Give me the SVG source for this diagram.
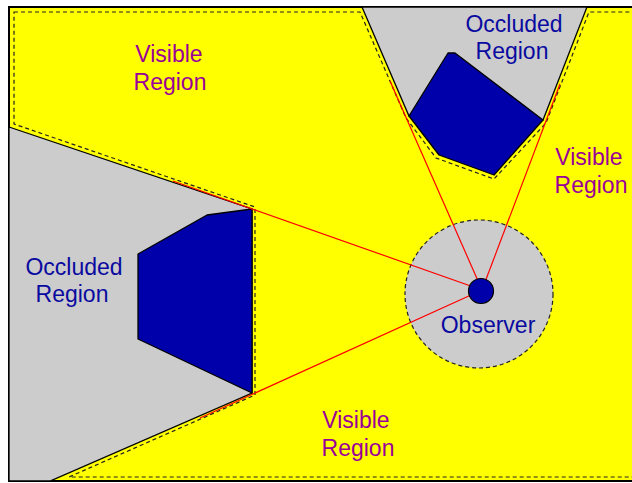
<svg xmlns="http://www.w3.org/2000/svg" width="632" height="483" viewBox="0 0 632 483">
  <style>
    .frame { fill: #ffff00; stroke: #000; stroke-width: 2; }
    .occl { fill: #cccccc; stroke: #000; stroke-width: 1.3; stroke-linejoin: miter; }
    .obst { fill: #0000aa; stroke: #000; stroke-width: 1.3; stroke-linejoin: round; }
    .dash { fill: none; stroke: #222; stroke-width: 1.2; stroke-dasharray: 4 3; }
    .ray { stroke: #ff0000; stroke-width: 1.2; fill: none; }
    .vis { font-family: "Liberation Sans", Arial, sans-serif; font-size: 23px; fill: #990099; text-anchor: middle; }
    .occ { font-family: "Liberation Sans", Arial, sans-serif; font-size: 23px; fill: #0a0aa0; text-anchor: middle; }
  </style>
  <rect width="632" height="483" fill="#ffffff"/>
  <g id="frame">
    <rect class="frame" x="9" y="7" width="640" height="474"/>
  </g>
  <g id="occluded-left">
    <polygon class="occl" points="9,127 252,209 252,393 50,481 9,481"/>
  </g>
  <g id="occluded-top">
    <polygon class="occl" points="362,7 409,116 543,120 587,7"/>
  </g>
  <g id="visible-boundary">
    <path class="dash" d="M14,12 L360,12 L406,118 L436,158 L494,179 L546,123 L589,12 L636,12 L636,477 L69,477 L255,395 L255,207 L14,124 Z"/>
  </g>
  <g id="obstacle-left">
    <polygon class="obst" points="252,209 207,215 138,254 138,339 252,393"/>
  </g>
  <g id="obstacle-top">
    <polygon class="obst" points="409,116 448,53 455,53 543,120 494,175 439,155"/>
  </g>
  <g id="sensor-range">
    <circle cx="479" cy="294" r="74" fill="#cccccc" stroke="#222" stroke-width="1.2" stroke-dasharray="4 3"/>
  </g>
  <g id="connectors">
    <line class="ray" x1="482" y1="290" x2="173" y2="181"/>
    <line class="ray" x1="482" y1="290" x2="200" y2="418"/>
    <line class="ray" x1="482" y1="290" x2="390" y2="81"/>
    <line class="ray" x1="482" y1="290" x2="560" y2="84"/>
  </g>
  <g id="observer">
    <circle cx="481" cy="291" r="12.5" fill="#0000aa" stroke="#000" stroke-width="1.2"/>
    <text class="occ" x="488" y="333">Observer</text>
  </g>
  <g id="label-visible-tl">
    <text class="vis" x="169" y="62">Visible</text>
    <text class="vis" x="170" y="90">Region</text>
  </g>
  <g id="label-occluded-top">
    <text class="occ" x="514" y="32">Occluded</text>
    <text class="occ" x="512" y="59">Region</text>
  </g>
  <g id="label-visible-right">
    <text class="vis" x="589" y="165">Visible</text>
    <text class="vis" x="591" y="193">Region</text>
  </g>
  <g id="label-occluded-left">
    <text class="occ" x="74" y="275">Occluded</text>
    <text class="occ" x="72" y="302">Region</text>
  </g>
  <g id="label-visible-bottom">
    <text class="vis" x="356" y="428">Visible</text>
    <text class="vis" x="358" y="456">Region</text>
  </g>
</svg>
